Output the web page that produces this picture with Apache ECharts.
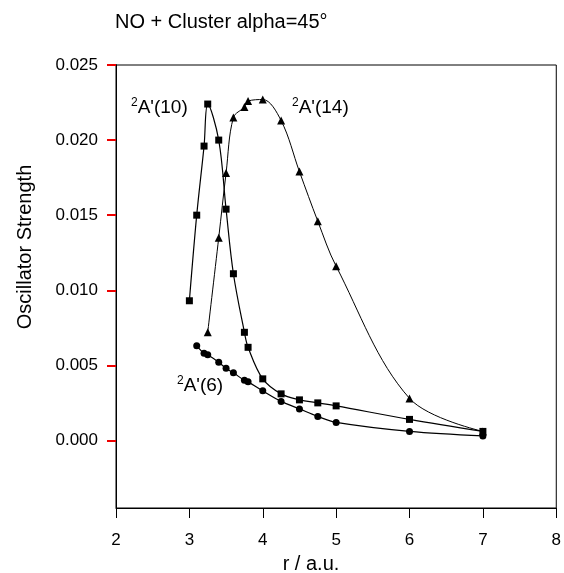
<!DOCTYPE html>
<html>
<head>
<meta charset="utf-8">
<script src="https://cdn.jsdelivr.net/npm/echarts@6/dist/echarts.min.js"></script>
<style>
  html, body { margin: 0; padding: 0; background: #fff; }
  #chart { width: 564px; height: 573px; }
</style>
</head>
<body>
<div id="chart"></div>
<script>
// r (a.u.) positions and oscillator strengths of each state
const rA10 = [3.0, 3.1, 3.2, 3.25, 3.4, 3.5, 3.6, 3.75, 3.8, 4.0, 4.25, 4.5, 4.75, 5.0, 6.0, 7.0];
const fA10 = [0.0093, 0.0150, 0.0196, 0.0224, 0.0200, 0.0154, 0.0111, 0.0072, 0.0062, 0.0041, 0.0031, 0.0027, 0.0025, 0.0023, 0.0014, 0.0006];

const rA14 = [3.25, 3.4, 3.5, 3.6, 3.75, 3.8, 4.0, 4.25, 4.5, 4.75, 5.0, 6.0, 7.0];
const fA14 = [0.0072, 0.0135, 0.0178, 0.0215, 0.0222, 0.0226, 0.0227, 0.0213, 0.0179, 0.0146, 0.0116, 0.0028, 0.0006];

const rA6 = [3.1, 3.2, 3.25, 3.4, 3.5, 3.6, 3.75, 3.8, 4.0, 4.25, 4.5, 4.75, 5.0, 6.0, 7.0];
const fA6 = [0.0063, 0.0058, 0.0057, 0.0052, 0.0048, 0.0045, 0.0040, 0.0039, 0.0033, 0.0026, 0.0021, 0.0016, 0.0012, 0.0006, 0.0003];

// Tick values on the y axis (the plot itself extends a little below zero)
const yMin = -0.0045, yMax = 0.025, yStep = 0.005;
const xMin = 2, xMax = 8, xStep = 1;

const FONT = 'Arial, "Liberation Sans", Helvetica, sans-serif';

// Plot box in pixels
const W = 564, H = 573;
const box = { left: 116, top: 65, right: 5, bottom: 65 };
const plotH = H - box.top - box.bottom;
const Y_TICK_LEN = 9;
// The labelled part of the y axis (0 .. yMax) is a second grid laid over
// the upper part of the plot box, sharing its left edge.
const tickGridBottom = box.bottom + plotH * (0 - yMin) / (yMax - yMin);

function pairs(xs, ys) { return xs.map((x, i) => [x, ys[i]]); }

function curve(name, xs, ys, symbol, size, width) {
  return {
    name: name,
    type: 'line',
    xAxisIndex: 0, yAxisIndex: 0,
    data: pairs(xs, ys),
    smooth: 0.35,
    symbol: symbol,
    symbolSize: size,
    itemStyle: { color: '#000' },
    lineStyle: { color: '#000', width: width },
    animation: false
  };
}

function stateLabel(x, y, n) {
  return {
    type: 'text',
    left: x, top: y,
    style: {
      text: '{s|2}{m|A\'(' + n + ')}',
      rich: {
        s: { fontSize: 12, fontFamily: FONT, fill: '#000', padding: [0, 0, 9, 0] },
        m: { fontSize: 19, fontFamily: FONT, fill: '#000' }
      }
    }
  };
}

const chart = echarts.init(document.getElementById('chart'), null, { renderer: 'canvas' });

chart.setOption({
  animation: false,
  grid: [
    { left: box.left, top: box.top, right: box.right, bottom: box.bottom, show: true, borderColor: '#000', borderWidth: 1 },
    { left: box.left, top: box.top, right: box.right, bottom: tickGridBottom }
  ],
  xAxis: [
    {
      gridIndex: 0, type: 'value', min: xMin, max: xMax, interval: xStep,
      axisLine: { onZero: false, lineStyle: { color: '#000', width: 1 } },
      axisTick: { show: true, length: 10, lineStyle: { color: '#000' } },
      axisLabel: { color: '#000', fontSize: 17, fontFamily: FONT, margin: 24 },
      splitLine: { show: false }
    },
    {
      gridIndex: 1, type: 'value', min: xMin, max: xMax, show: false
    }
  ],
  yAxis: [
    {
      gridIndex: 0, type: 'value', min: yMin, max: yMax,
      axisLine: { show: true, lineStyle: { color: '#000', width: 1 } },
      axisTick: { show: false },
      axisLabel: { show: false },
      splitLine: { show: false }
    },
    {
      gridIndex: 1, type: 'value', min: 0, max: yMax, interval: yStep,
      axisLine: { show: true, lineStyle: { color: '#000', width: 1 } },
      axisTick: { show: true, length: Y_TICK_LEN, lineStyle: { color: '#e00', width: 2 } },
      axisLabel: {
        color: '#000', fontSize: 17, fontFamily: FONT, margin: 18,
        formatter: v => v.toFixed(3)
      },
      splitLine: { show: false }
    }
  ],
  series: [
    curve("2A'(10)", rA10, fA10, 'rect', 7, 1.2),
    curve("2A'(14)", rA14, fA14, 'triangle', 8, 1),
    curve("2A'(6)", rA6, fA6, 'circle', 7, 1.2)
  ],
  graphic: [
    {
      type: 'text', left: 115, top: 12,
      style: { text: 'NO + Cluster alpha=45°', fontSize: 20, fontFamily: FONT, fill: '#000' }
    },
    {
      type: 'text', x: 25, y: 247, rotation: Math.PI / 2,
      style: { text: 'Oscillator Strength', fontSize: 20, fontFamily: FONT, fill: '#000', align: 'center', verticalAlign: 'middle' }
    },
    {
      type: 'text', x: 311, y: 564,
      style: { text: 'r / a.u.', fontSize: 20, fontFamily: FONT, fill: '#000', align: 'center', verticalAlign: 'middle' }
    },
    stateLabel(131, 97, 10),
    stateLabel(292, 97, 14),
    stateLabel(177, 375, 6)
  ]
});
</script>
</body>
</html>
